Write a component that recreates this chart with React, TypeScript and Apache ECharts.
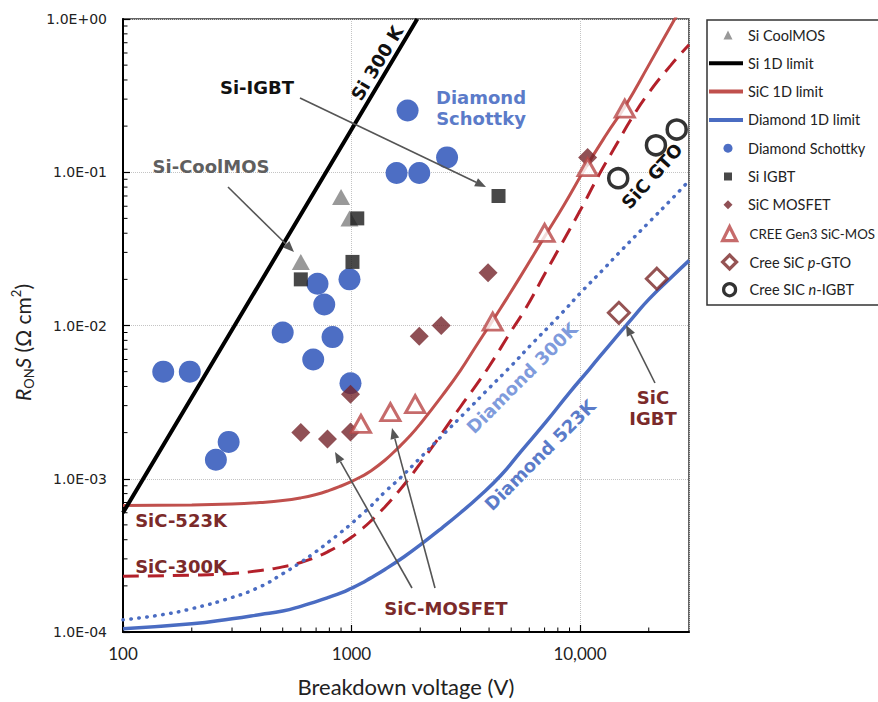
import React, { useEffect, useRef } from 'react';
import * as echarts from 'echarts';

// ---------- axis ranges & ticks ----------
const X_MIN = 100;
const X_MAX = 30000;
const Y_MIN = 1e-4;
const Y_MAX = 1;
const xMinorTicks = [200, 300, 400, 500, 600, 700, 800, 900, 2000, 3000, 4000, 5000, 6000, 7000, 8000, 9000, 20000];
const yMinorTicks = [
  2e-4, 3e-4, 4e-4, 5e-4, 6e-4, 7e-4, 8e-4, 9e-4,
  2e-3, 3e-3, 4e-3, 5e-3, 6e-3, 7e-3, 8e-3, 9e-3,
  2e-2, 3e-2, 4e-2, 5e-2, 6e-2, 7e-2, 8e-2, 9e-2,
  2e-1, 3e-1, 4e-1, 5e-1, 6e-1, 7e-1, 8e-1, 9e-1,
];

// ---------- limit lines [breakdown V, RonS] ----------
const si1DLimit = [[100, 6.0e-4], [1000, 0.19], [1940, 1.0]];
const sic1DLimit523K = [
  [100, 6.7e-4], [200, 6.75e-4], [300, 6.85e-4], [400, 7.0e-4], [500, 7.2e-4], [600, 7.5e-4],
  [700, 7.9e-4], [800, 8.4e-4], [900, 8.97e-4], [1000, 9.6e-4], [1100, 1.03e-3], [1200, 1.11e-3], [1400, 1.32e-3],
  [1600, 1.59e-3], [1800, 1.9e-3], [2000, 2.28e-3], [2500, 3.5e-3], [3000, 5.1e-3], [3500, 7.3e-3],
  [4000, 9.9e-3], [4500, 1.3e-2], [5500, 2.1e-2], [7000, 3.8e-2], [8500, 6.1e-2], [10500, 0.105],
  [13000, 0.175], [15900, 0.275], [20000, 0.5], [25700, 0.97], [27500, 1.15],
];
const sic1DLimit300K = [
  [100, 2.31e-4], [200, 2.35e-4], [300, 2.41e-4], [400, 2.52e-4], [500, 2.66e-4], [600, 2.84e-4],
  [700, 3.08e-4], [800, 3.38e-4], [900, 3.74e-4], [1000, 4.15e-4], [1100, 4.65e-4], [1200, 5.2e-4], [1400, 6.55e-4],
  [1600, 8.2e-4], [1800, 1.02e-3], [2000, 1.26e-3], [2500, 2.0e-3], [3000, 2.95e-3], [3500, 4.05e-3],
  [4000, 5.4e-3], [5000, 9.2e-3], [5800, 1.3e-2], [7000, 2.16e-2], [8300, 3.4e-2], [10000, 5.6e-2],
  [12200, 9.8e-2], [14000, 0.14], [17000, 0.23], [20000, 0.33], [25000, 0.5], [30000, 0.68],
];
const diamond1DLimit523K = [
  [100, 1.05e-4], [200, 1.13e-4], [300, 1.22e-4], [400, 1.3e-4], [500, 1.37e-4], [600, 1.47e-4],
  [700, 1.58e-4], [800, 1.69e-4], [900, 1.8e-4], [1000, 1.93e-4], [1100, 2.07e-4], [1200, 2.23e-4], [1400, 2.56e-4], [1700, 3.1e-4],
  [2000, 3.7e-4], [2500, 4.8e-4], [3000, 6.0e-4], [3600, 7.6e-4], [4500, 1.05e-3], [5500, 1.5e-3],
  [7100, 2.35e-3], [9000, 3.65e-3], [11000, 5.2e-3], [13800, 7.8e-3], [17000, 1.12e-2], [20000, 1.48e-2],
  [25000, 2.05e-2], [30000, 2.65e-2],
];
const diamond1DLimit300K = [
  [100, 1.2e-4], [150, 1.3e-4], [200, 1.42e-4], [300, 1.68e-4], [400, 1.98e-4], [500, 2.4e-4],
  [600, 2.85e-4], [700, 3.35e-4], [800, 3.9e-4], [900, 4.48e-4], [1000, 5.1e-4], [1100, 5.8e-4], [1200, 6.5e-4],
  [1400, 8.2e-4], [1620, 1.0e-3], [2000, 1.37e-3], [2500, 1.92e-3], [3180, 2.75e-3], [4000, 3.9e-3],
  [5000, 5.45e-3], [6170, 7.6e-3], [8000, 1.13e-2], [10200, 1.67e-2], [12500, 2.28e-2], [15200, 3.1e-2],
  [20000, 4.7e-2], [25000, 6.6e-2], [30000, 8.8e-2],
];

// ---------- device data [breakdown V, RonS] ----------
const siCoolMOS = [[600, 0.026], [900, 0.069], [980, 0.05]];
const siIGBT = [[600, 0.02], [1060, 0.05], [1010, 0.026], [4400, 0.07]];
const diamondSchottky = [
  [150, 0.005], [196, 0.005], [255, 0.00133], [290, 0.00174], [500, 0.009], [680, 0.006],
  [710, 0.0187], [760, 0.0137], [826, 0.0084], [980, 0.02], [990, 0.0042], [1575, 0.099],
  [1980, 0.099], [1760, 0.253], [2620, 0.125],
];
const sicMOSFET = [
  [600, 0.002], [785, 0.00182], [990, 0.00356], [990, 0.00202], [1980, 0.0085], [2470, 0.01],
  [3960, 0.0221], [10800, 0.125],
];
const creeGen3SiCMOS = [
  [1100, 0.00228], [1480, 0.00272], [1900, 0.00307], [4150, 0.0106], [7000, 0.0402], [10800, 0.108], [15700, 0.26],
];
const creeSiCpGTO = [[14800, 0.0121], [21700, 0.0202]];
const creeSiCnIGBT = [[14700, 0.0914], [21500, 0.15], [26500, 0.19]];

// ---------- styling ----------
const C = {
  black: '#000000',
  sicLine: '#c0504d',
  sicDash: '#b3202a',
  diaLine: '#4a6cc2',
  diaDot: '#4a6cc2',
  schottky: '#4d6ec4',
  coolmos: '#808080',
  igbt: '#1a1a1a',
  mosfet: '#74242a',
  cree: '#b84646',
  gto: '#7b2828',
  nigbt: '#000000',
  annRed: '#7b2a2a',
  annBlue: '#5b7bc9',
  annLightBlue: '#7f9bdc',
  arrow: '#555555',
};

const ANN_FONT = 'bold 18px "DejaVu Sans"';

const annotations = [
  { text: 'Si 300 K', x: 377, y: 63, rot: 59, color: '#111111' },
  { text: 'Si-IGBT', x: 257, y: 87, rot: 0, color: '#111111' },
  { text: 'Si-CoolMOS', x: 211, y: 166, rot: 0, color: '#5f5f5f' },
  { text: 'Diamond\nSchottky', x: 481, y: 108, rot: 0, color: C.annBlue },
  { text: 'SiC GTO', x: 652, y: 176, rot: 48, color: '#111111' },
  { text: 'Diamond 300K', x: 522, y: 378, rot: 45, color: C.annLightBlue },
  { text: 'Diamond 523K', x: 540, y: 455, rot: 45, color: C.annBlue },
  { text: 'SiC\nIGBT', x: 653, y: 408, rot: 0, color: C.annRed },
  { text: 'SiC-523K', x: 181, y: 520, rot: 0, color: C.annRed },
  { text: 'SiC-300K', x: 181, y: 566, rot: 0, color: C.annRed },
  { text: 'SiC-MOSFET', x: 446, y: 608, rot: 0, color: C.annRed },
];

const arrows = [
  [300, 98, 486, 187],
  [228, 187, 294, 252],
  [412, 588, 335, 452],
  [435, 588, 392, 428],
  [655, 383, 626, 325],
];

function arrowEls(a: number[]) {
  const [x1, y1, x2, y2] = a;
  const ang = Math.atan2(y2 - y1, x2 - x1);
  const L = 11;
  const W = 4.5;
  const bx = x2 - L * Math.cos(ang);
  const by = y2 - L * Math.sin(ang);
  const px = -Math.sin(ang) * W;
  const py = Math.cos(ang) * W;
  return [
    { type: 'line', silent: true, shape: { x1, y1, x2: bx, y2: by }, style: { stroke: C.arrow, lineWidth: 1.6 } },
    { type: 'polygon', silent: true, shape: { points: [[x2, y2], [bx + px, by + py], [bx - px, by - py]] }, style: { fill: C.arrow } },
  ];
}

const legendEntries = [
  { name: 'Si CoolMOS', label: '{n|Si CoolMOS}', kind: 'marker', icon: 'triangle', size: 9, color: C.coolmos, hollow: false },
  { name: 'Si 1D limit', label: '{n|Si 1D limit}', kind: 'line', color: C.black },
  { name: 'SiC 1D limit', label: '{n|SiC 1D limit}', kind: 'line', color: C.sicLine },
  { name: 'Diamond 1D limit', label: '{n|Diamond 1D limit}', kind: 'line', color: C.diaLine },
  { name: 'Diamond Schottky', label: '{n|Diamond Schottky}', kind: 'marker', icon: 'circle', size: 9, color: C.schottky, hollow: false },
  { name: 'Si IGBT', label: '{n|Si IGBT}', kind: 'marker', icon: 'rect', size: 8, color: C.igbt, hollow: false },
  { name: 'SiC MOSFET', label: '{n|SiC MOSFET}', kind: 'marker', icon: 'diamond', size: 9, color: C.mosfet, hollow: false },
  { name: 'CREE Gen3 SiC-MOSFET', label: '{n|CREE Gen3 SiC-MOS}', kind: 'marker', icon: 'triangle', size: 14, color: C.cree, hollow: true, fs: 13.3 },
  { name: 'Cree SiC p-GTO', label: '{n|Cree SiC }{i|p}{n|-GTO}', kind: 'marker', icon: 'diamond', size: 14, color: C.gto, hollow: true },
  { name: 'Cree SIC n-IGBT', label: '{n|Cree SIC }{i|n}{n|-IGBT}', kind: 'marker', icon: 'circle', size: 12, color: C.nigbt, hollow: true },
];

const LEG_FONT = 'Lato';
const LEG_SIZE = 14.5;

function buildLegends() {
  return legendEntries.map((e: any, i) => {
    const cy = 35 + i * 28.3;
    const fs = e.fs || LEG_SIZE;
    const isLine = e.kind === 'line';
    const iw = isLine ? 34 : (e.size as number);
    const ih = isLine ? 4 : (e.size as number);
    const left = isLine ? 709 : 728 - iw / 2;
    const textStart = left + iw + 5;
    const pad = Math.max(0, 748 - textStart);
    const rich = {
      n: { fontFamily: LEG_FONT, fontSize: fs, color: '#222', lineHeight: 16 },
      i: { fontFamily: LEG_FONT, fontSize: fs, color: '#222', lineHeight: 16, fontStyle: 'italic' },
    };
    return {
      show: true,
      selectedMode: false,
      orient: 'vertical',
      left,
      top: cy - 8,
      padding: 0,
      itemWidth: iw,
      itemHeight: ih,
      itemGap: 0,
      formatter: () => e.label,
      textStyle: { fontFamily: LEG_FONT, fontSize: fs, color: '#222', lineHeight: 16, padding: [0, 0, 0, pad], rich },
      data: [
        {
          name: e.name,
          icon: isLine ? 'rect' : e.icon,
          itemStyle: isLine
            ? { color: e.color, borderWidth: 0 }
            : e.hollow
            ? { color: '#ffffff', borderColor: e.color, borderWidth: 3.2 }
            : { color: e.color, borderWidth: 0 },
        },
      ],
    };
  });
}

function isDecade(v: number) {
  const e = Math.log10(v);
  return Math.abs(e - Math.round(e)) < 1e-6;
}

export default function App() {
  const ref = useRef<HTMLDivElement>(null);

  useEffect(() => {
    if (!ref.current) return;
    const chart = echarts.init(ref.current, undefined, { renderer: 'svg' });

    const lineBase = { type: 'line', symbol: 'none', showSymbol: false, smooth: 0.5, clip: true, z: 2 } as any;

    const graphicEls: any[] = [];
    graphicEls.push({
      type: 'rect',
      silent: true,
      shape: { x: 707, y: 20, width: 260, height: 285 },
      style: { fill: 'none', stroke: '#333', lineWidth: 1.5 },
    });
    annotations.forEach((a) => {
      graphicEls.push({
        type: 'text',
        silent: true,
        x: a.x,
        y: a.y,
        rotation: ((a.rot || 0) * Math.PI) / 180,
        z: 50,
        style: {
          text: a.text,
          fill: a.color,
          font: ANN_FONT,
          textAlign: 'center',
          textVerticalAlign: 'middle',
          lineHeight: 21,
        },
      });
    });
    arrows.forEach((a) => arrowEls(a).forEach((el) => graphicEls.push({ ...el, z: 49 })));

    const option: any = {
      animation: false,
      backgroundColor: '#ffffff',
      grid: { left: 123, right: 189, top: 19, bottom: 68, show: true, borderColor: '#333', borderWidth: 1.5, backgroundColor: 'transparent' },
      xAxis: {
        type: 'log',
        logBase: 10,
        min: X_MIN,
        max: X_MAX,
        axisLine: { show: true, onZero: false, lineStyle: { color: '#000', width: 2 } },
        axisTick: { show: true, inside: true, length: 7, lineStyle: { color: '#000', width: 1.2 } },
        axisLabel: {
          showMaxLabel: false,
          margin: 13,
          fontFamily: 'Lato',
          fontSize: 17,
          color: '#222',
          formatter: (v: number) => {
            if (!isDecade(v)) return '';
            const r = Math.round(v);
            return r >= 10000 ? r.toLocaleString('en-US') : String(r);
          },
        },
        splitLine: { show: true, lineStyle: { type: 'dotted', color: '#c4c4c4', width: 1 } },
        name: 'Breakdown voltage (V)',
        nameLocation: 'middle',
        nameGap: 43,
        nameTextStyle: { fontFamily: 'Lato', fontSize: 22, color: '#222' },
      },
      yAxis: {
        type: 'log',
        logBase: 10,
        min: Y_MIN,
        max: Y_MAX,
        axisLine: { show: true, onZero: false, lineStyle: { color: '#000', width: 2 } },
        axisTick: { show: true, inside: true, length: 7, lineStyle: { color: '#000', width: 1.2 } },
        axisLabel: {
          margin: 16,
          fontFamily: 'DejaVu Sans',
          fontSize: 14,
          color: '#222',
          formatter: (v: number) => {
            if (!isDecade(v)) return '';
            const e = Math.round(Math.log10(v));
            return '1.0E' + (e < 0 ? '-' : '+') + String(Math.abs(e)).padStart(2, '0');
          },
        },
        splitLine: { show: true, lineStyle: { type: 'dotted', color: '#c4c4c4', width: 1 } },
        name: '{i|R}{s|ON}{i|S} (Ω cm{p|2})',
        nameLocation: 'middle',
        nameRotate: 90,
        nameGap: 83,
        nameTextStyle: {
          fontFamily: 'Lato',
          fontSize: 21,
          color: '#222',
          lineHeight: 26,
          padding: [0, 34, 0, 0],
          rich: {
            i: { fontFamily: 'Lato', fontSize: 21, fontStyle: 'italic', color: '#222', lineHeight: 26 },
            s: { fontFamily: 'Lato', fontSize: 13, color: '#222', verticalAlign: 'bottom', lineHeight: 13 },
            p: { fontFamily: 'Lato', fontSize: 13, color: '#222', verticalAlign: 'top', lineHeight: 13 },
          },
        },
      },
      legend: buildLegends(),
      graphic: graphicEls,
      series: [
        { ...lineBase, name: 'SiC 1D limit (300K)', data: sic1DLimit300K, lineStyle: { color: C.sicDash, width: 3, type: [16, 9] }, itemStyle: { color: C.sicDash } },
        { ...lineBase, name: 'Diamond 1D limit (300K)', data: diamond1DLimit300K, lineStyle: { color: C.diaDot, width: 3.5, type: [0.5, 7.5], cap: 'round' }, itemStyle: { color: C.diaDot } },
        { ...lineBase, name: 'Diamond 1D limit', data: diamond1DLimit523K, lineStyle: { color: C.diaLine, width: 3.5 }, itemStyle: { color: C.diaLine } },
        { ...lineBase, name: 'SiC 1D limit', data: sic1DLimit523K, lineStyle: { color: C.sicLine, width: 3 }, itemStyle: { color: C.sicLine } },
        { ...lineBase, smooth: false, name: 'Si 1D limit', data: si1DLimit, lineStyle: { color: C.black, width: 4 }, itemStyle: { color: C.black } },
        {
          type: 'custom',
          name: 'xMinorTicks',
          silent: true,
          clip: false,
          z: 5,
          data: xMinorTicks.map((v) => [v, Y_MIN]),
          renderItem: (params: any, api: any) => {
            const p = api.coord([api.value(0), api.value(1)]);
            return { type: 'line', shape: { x1: p[0], y1: p[1], x2: p[0], y2: p[1] - 4.5 }, style: { stroke: '#000', lineWidth: 1 } };
          },
        },
        {
          type: 'custom',
          name: 'yMinorTicks',
          silent: true,
          clip: false,
          z: 5,
          data: yMinorTicks.map((v) => [X_MIN, v]),
          renderItem: (params: any, api: any) => {
            const p = api.coord([api.value(0), api.value(1)]);
            return { type: 'line', shape: { x1: p[0], y1: p[1], x2: p[0] + 4.5, y2: p[1] }, style: { stroke: '#000', lineWidth: 1 } };
          },
        },
        { type: 'scatter', name: 'Diamond Schottky', data: diamondSchottky, symbol: 'circle', symbolSize: 22, itemStyle: { color: C.schottky, opacity: 1 }, z: 3 },
        { type: 'scatter', name: 'Si CoolMOS', data: siCoolMOS, symbol: 'triangle', symbolSize: [18, 16], itemStyle: { color: C.coolmos }, z: 3 },
        { type: 'scatter', name: 'Si IGBT', data: siIGBT, symbol: 'rect', symbolSize: 14, itemStyle: { color: C.igbt }, z: 3 },
        { type: 'scatter', name: 'SiC MOSFET', data: sicMOSFET, symbol: 'diamond', symbolSize: 19, itemStyle: { color: C.mosfet }, z: 3 },
        { type: 'scatter', name: 'CREE Gen3 SiC-MOSFET', data: creeGen3SiCMOS, symbol: 'triangle', symbolSize: [19, 17], itemStyle: { color: '#ffffff', borderColor: C.cree, borderWidth: 3 }, z: 4 },
        { type: 'scatter', name: 'Cree SiC p-GTO', data: creeSiCpGTO, symbol: 'diamond', symbolSize: 21, itemStyle: { color: '#ffffff', borderColor: C.gto, borderWidth: 3 }, z: 4 },
        { type: 'scatter', name: 'Cree SIC n-IGBT', data: creeSiCnIGBT, symbol: 'circle', symbolSize: 19, itemStyle: { color: '#ffffff', borderColor: C.nigbt, borderWidth: 3.5 }, z: 4 },
      ],
    };

    chart.setOption(option);
    return () => chart.dispose();
  }, []);

  return <div ref={ref} style={{ position: 'absolute', left: 0, top: 0, width: 878, height: 702 }} />;
}
